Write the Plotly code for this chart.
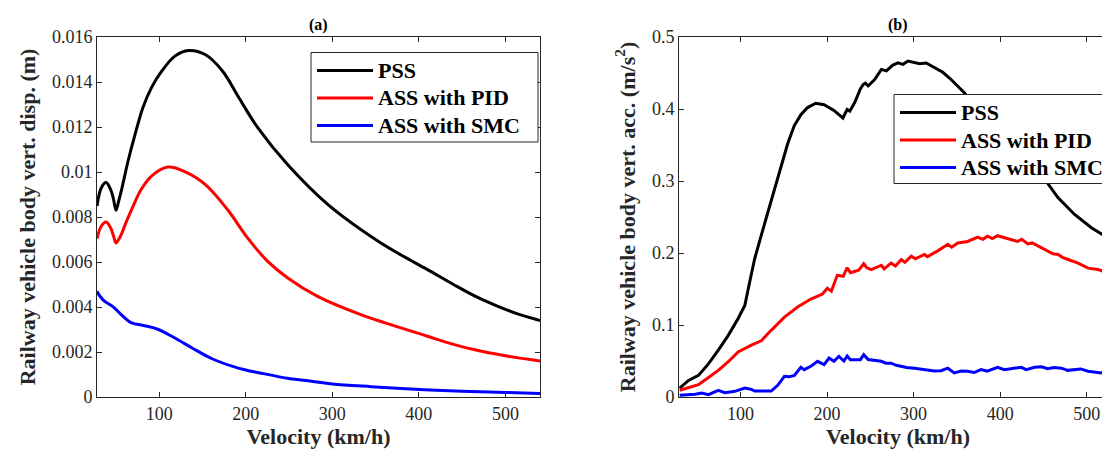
import plotly.graph_objects as go

# ---------------- data: panel (a) vertical displacement (m) ----------------
v_a_pss = [28, 33, 38.5, 44, 47, 50, 53, 56, 64, 72, 81, 91, 103, 118, 134, 153, 173, 192, 214,
           248.5, 295, 353, 380, 410, 440, 465, 490, 515, 540]
a_pss = [0.00849, 0.0093, 0.00953, 0.0092, 0.0088, 0.0083, 0.0087, 0.00915, 0.0105, 0.01167,
         0.01286, 0.01375, 0.01449, 0.01515, 0.0154, 0.01522, 0.01449, 0.0133, 0.01196,
         0.01032, 0.00855, 0.00692, 0.0063, 0.00566, 0.0050, 0.00448, 0.00405, 0.00368, 0.0034]

v_a_pid = [28, 33, 38.5, 44, 47.5, 50, 53, 56, 62, 68, 79, 91, 110, 130, 153, 179, 202, 225,
           248.5, 283, 333, 410, 430, 461, 500, 540]
a_pid = [0.00704, 0.0076, 0.00778, 0.0075, 0.0071, 0.00685, 0.0070, 0.00722, 0.0078, 0.00833,
         0.00922, 0.00982, 0.01022, 0.01001, 0.00945, 0.00832, 0.00707, 0.00604, 0.00529,
         0.00447, 0.00366, 0.0027, 0.00245, 0.00213, 0.00183, 0.0016]

v_a_smc = [28, 31, 36.6, 46, 56, 68, 83, 99, 118, 138, 161, 184, 200, 215, 250, 276, 300, 345,
           380, 420, 460, 500, 540]
a_smc = [0.0047, 0.0045, 0.00426, 0.00403, 0.00366, 0.00329, 0.00317, 0.0030, 0.00262,
         0.00218, 0.0017, 0.00137, 0.0012, 0.00108, 0.00082, 0.0007, 0.00058, 0.00046,
         0.00038, 0.0003, 0.00024, 0.0002, 0.00016]

# ---------------- data: panel (b) vertical acceleration (m/s^2) ----------------
v_b_pss = [29.8, 40, 51.5, 63, 74.4, 85.9, 97.3, 105, 110.7, 116.4, 124, 131.7, 139.3, 147,
           154.6, 162.2, 169.8, 177.5, 187, 196.6, 208, 218.3, 221, 223.3, 226.3, 232, 238.5,
           241.8, 244.3, 247.5, 255, 262.8, 268.6, 276, 282, 287.7, 293.5, 301, 307, 314.6,
           324, 333.7, 343.3, 351, 358.6, 370, 390, 410, 430, 453.5, 467, 486, 505.4, 524.6,
           535.4]
b_pss = [0.0125, 0.023, 0.030, 0.046, 0.065, 0.0856, 0.109, 0.127, 0.160, 0.192, 0.2245,
         0.257, 0.289, 0.322, 0.352, 0.377, 0.392, 0.402, 0.408, 0.406, 0.398, 0.3875, 0.394,
         0.3995, 0.397, 0.409, 0.428, 0.434, 0.436, 0.432, 0.441, 0.455, 0.453, 0.461, 0.464,
         0.462, 0.4666, 0.465, 0.463, 0.464, 0.457, 0.451, 0.441, 0.432, 0.4226, 0.405,
         0.375, 0.350, 0.325, 0.299, 0.2766, 0.2535, 0.235, 0.221, 0.214]

v_b_pid = [29.8, 40, 51.5, 63, 74.4, 85.9, 97.3, 112.6, 124, 135.5, 150.8, 166, 181.3, 194.7,
           200.4, 205, 211.8, 218.7, 223.3, 227, 236.6, 242.4, 246, 251, 262.8, 266, 274,
           279, 285.8, 290, 297.3, 302, 312.6, 316, 328, 339.5, 344, 351, 362.5, 374, 380,
           385.4, 391, 397, 408.4, 414, 420, 425, 432, 437, 444, 449, 455, 461, 467, 472,
           478.5, 484, 490, 501.5, 513, 518, 524.6, 530, 535.4]
b_pid = [0.0093, 0.0125, 0.0171, 0.027, 0.037, 0.049, 0.0625, 0.072, 0.078, 0.0926, 0.111,
         0.125, 0.136, 0.143, 0.151, 0.147, 0.169, 0.1676, 0.1796, 0.1727, 0.176, 0.185,
         0.1796, 0.177, 0.183, 0.178, 0.186, 0.182, 0.191, 0.187, 0.1955, 0.192, 0.198,
         0.195, 0.203, 0.212, 0.208, 0.214, 0.216, 0.222, 0.219, 0.2234, 0.220, 0.224,
         0.220, 0.218, 0.216, 0.219, 0.2127, 0.214, 0.2095, 0.207, 0.2034, 0.199, 0.198,
         0.194, 0.191, 0.189, 0.186, 0.179, 0.177, 0.175, 0.1747, 0.173, 0.170]

v_b_smc = [29.8, 47.7, 55.3, 63, 74.4, 82, 93.5, 105, 112.6, 116.4, 135.5, 143, 150.8, 156,
           162.2, 169.8, 173.7, 181.3, 189, 196.6, 202.3, 208, 213.7, 219.5, 223.3, 227,
           238.5, 242.4, 247.5, 255, 262.8, 268, 274, 280, 285.8, 292, 301, 308, 316.5, 324,
           331.8, 339.5, 347, 355, 362.5, 370, 377.8, 385, 397, 405, 416, 424.6, 430, 440,
           448, 455, 462, 470.8, 478, 486, 493, 501.5, 517, 524.6, 531.5, 535.4]
b_smc = [0.0023, 0.0037, 0.0056, 0.0032, 0.0093, 0.006, 0.0079, 0.0125, 0.0106, 0.0083,
         0.0083, 0.0162, 0.0287, 0.028, 0.030, 0.0412, 0.038, 0.0426, 0.0495, 0.045, 0.0542,
         0.0495, 0.0565, 0.050, 0.057, 0.0518, 0.0518, 0.0588, 0.052, 0.051, 0.0496, 0.047,
         0.047, 0.044, 0.0426, 0.041, 0.040, 0.039, 0.038, 0.036, 0.0366, 0.040, 0.0334,
         0.036, 0.0357, 0.034, 0.038, 0.036, 0.0412, 0.038, 0.040, 0.0412, 0.038, 0.0412,
         0.042, 0.0394, 0.041, 0.040, 0.037, 0.038, 0.039, 0.0357, 0.0334, 0.0357, 0.030,
         0.0347]

series_names = ["PSS", "ASS with PID", "ASS with SMC"]
series_colors = ["#000000", "#ff0000", "#0000ff"]

x_ticks = [100, 200, 300, 400, 500]
ya_ticks = [0, 0.002, 0.004, 0.006, 0.008, 0.01, 0.012, 0.014, 0.016]
ya_labels = ["0", "0.002", "0.004", "0.006", "0.008", "0.01", "0.012", "0.014", "0.016"]
yb_ticks = [0, 0.1, 0.2, 0.3, 0.4, 0.5]
yb_labels = ["0", "0.1", "0.2", "0.3", "0.4", "0.5"]

FONT = "Liberation Serif, Times New Roman, Times, serif"
AX = "#262626"

# figure geometry (px) used to place the hand-drawn legend boxes in paper coordinates
W, H = 1110, 450
ML, MR, MT, MB = 89, 1, 29, 61
PW, PH = W - ML - MR, H - MT - MB


def px(xp):
    return (xp - ML) / PW


def py(yp):
    return (H - MB - yp) / PH


fig = go.Figure()
for x, y, n, c in zip([v_a_pss, v_a_pid, v_a_smc], [a_pss, a_pid, a_smc], series_names, series_colors):
    fig.add_trace(go.Scatter(x=x, y=y, name=n, mode="lines", showlegend=False,
                             line=dict(color=c, width=3, shape="spline", smoothing=1.0),
                             xaxis="x", yaxis="y"))
for x, y, n, c in zip([v_b_pss, v_b_pid, v_b_smc], [b_pss, b_pid, b_smc], series_names, series_colors):
    fig.add_trace(go.Scatter(x=x, y=y, name=n, mode="lines", showlegend=False,
                             line=dict(color=c, width=3),
                             xaxis="x2", yaxis="y2"))

# legend boxes: (left, right, top, bottom, first-row y, row step) in px
legend_boxes = [(303, 530, 44.5, 134, 62.5, 27.5), (886, 1107, 86.5, 175.5, 104.5, 27.5)]
shapes = []
annotations = []
for (l, r, t, b, y0, dy) in legend_boxes:
    shapes.append(dict(type="rect", xref="paper", yref="paper", x0=px(l), x1=px(r), y0=py(b), y1=py(t),
                       fillcolor="white", line=dict(color=AX, width=1), layer="above"))
    for i, (n, c) in enumerate(zip(series_names, series_colors)):
        yy = py(y0 + i * dy)
        shapes.append(dict(type="line", xref="paper", yref="paper", x0=px(l + 6), x1=px(l + 62),
                           y0=yy, y1=yy, line=dict(color=c, width=3), layer="above"))
        annotations.append(dict(text="<b>" + n + "</b>", xref="paper", yref="paper", x=px(l + 65), y=yy,
                                xanchor="left", yanchor="middle", showarrow=False,
                                font=dict(family=FONT, size=22, color="#000000")))

annotations += [
    dict(text="<b>(a)</b>", xref="paper", yref="paper", x=0.2172, y=1.034, xanchor="center",
         yanchor="middle", showarrow=False, font=dict(family=FONT, size=16, color="#000000")),
    dict(text="<b>(b)</b>", xref="paper", yref="paper", x=0.7853, y=1.034, xanchor="center",
         yanchor="middle", showarrow=False, font=dict(family=FONT, size=16, color="#000000")),
]

tickfont = dict(family=FONT, size=18, color=AX)
titlefont = dict(family=FONT, size=22, color=AX)
common = dict(showline=True, linecolor=AX, linewidth=1, mirror="ticks", ticks="inside",
              ticklen=5, tickcolor=AX, showgrid=False, zeroline=False, tickfont=tickfont,
              tickprefix="<b>", ticksuffix="</b>", automargin=False)

fig.update_layout(
    template="none",
    width=W, height=H,
    margin=dict(l=ML, r=MR, t=MT, b=MB, autoexpand=False),
    paper_bgcolor="white", plot_bgcolor="white",
    font=dict(family=FONT, color=AX),
    showlegend=False,
    xaxis=dict(domain=[0, 0.4343], range=[28, 540], tickvals=x_ticks, anchor="y",
               title=dict(text="<b>Velocity (km/h)</b>", font=titlefont, standoff=6), **common),
    yaxis=dict(domain=[0, 1], range=[0, 0.016], tickvals=ya_ticks, ticktext=ya_labels, anchor="x",
               title=dict(text="<b>Railway vehicle body vert. disp. (m)</b>", font=titlefont, standoff=10),
               **common),
    xaxis2=dict(domain=[0.5706, 1.0], range=[29, 535], tickvals=x_ticks, anchor="y2",
                title=dict(text="<b>Velocity (km/h)</b>", font=titlefont, standoff=6), **common),
    yaxis2=dict(domain=[0, 1], range=[0, 0.5], tickvals=yb_ticks, ticktext=yb_labels, anchor="x2",
                title=dict(text="<b>Railway vehicle body vert. acc. (m/s<sup>2</sup>)</b>", font=titlefont,
                           standoff=10), **common),
    shapes=shapes,
    annotations=annotations,
)

fig.write_html("out.html")
